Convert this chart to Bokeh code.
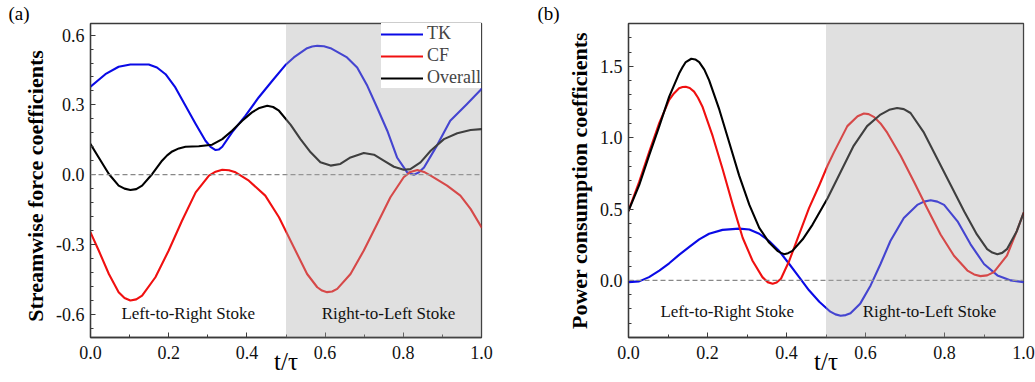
from bokeh.plotting import figure
from bokeh.layouts import row
from bokeh.models import (Range1d, SingleIntervalTicker, PrintfTickFormatter, BoxAnnotation,
                          Span, Label, Legend, LegendItem)
from bokeh.embed import file_html
from bokeh.resources import INLINE

# ---------------- data: panel (a) streamwise force coefficients ----------------
a_tk_t = [0, 0.038, 0.072, 0.102, 0.149, 0.17, 0.192, 0.217, 0.243, 0.269, 0.294, 0.307, 0.32, 0.328, 0.337,
          0.362, 0.396, 0.43, 0.465, 0.5, 0.52, 0.554, 0.567, 0.58, 0.597, 0.614, 0.656, 0.682, 0.708, 0.733,
          0.759, 0.784, 0.81, 0.827, 0.84, 0.853, 0.886, 0.92, 0.963, 1.0]
a_tk_v = [0.378, 0.432, 0.464, 0.474, 0.474, 0.461, 0.432, 0.375, 0.296, 0.218, 0.146, 0.120, 0.106, 0.108,
          0.12, 0.182, 0.253, 0.332, 0.404, 0.474, 0.504, 0.544, 0.551, 0.554, 0.552, 0.544, 0.504, 0.461,
          0.382, 0.289, 0.189, 0.074, 0.010, 0.0, 0.01, 0.031, 0.125, 0.232, 0.304, 0.368]

a_cf_t = [0, 0.021, 0.047, 0.072, 0.087, 0.102, 0.117, 0.132, 0.166, 0.2, 0.234, 0.269, 0.303, 0.32, 0.337,
          0.354, 0.371, 0.405, 0.447, 0.482, 0.52, 0.554, 0.58, 0.592, 0.605, 0.618, 0.631, 0.665, 0.699,
          0.733, 0.767, 0.801, 0.818, 0.836, 0.853, 0.87, 0.912, 0.946, 0.972, 1.0]
a_cf_v = [-0.248, -0.326, -0.427, -0.505, -0.530, -0.541, -0.536, -0.520, -0.441, -0.326, -0.198, -0.076,
          -0.004, 0.013, 0.021, 0.019, 0.010, -0.026, -0.090, -0.183, -0.312, -0.427, -0.484, -0.498, -0.505,
          -0.502, -0.491, -0.427, -0.326, -0.212, -0.097, -0.011, 0.012, 0.020, 0.012, -0.004, -0.047,
          -0.090, -0.147, -0.226]

a_ov_t = [0, 0.021, 0.047, 0.072, 0.087, 0.102, 0.117, 0.132, 0.158, 0.183, 0.196, 0.209, 0.226, 0.243,
          0.277, 0.311, 0.337, 0.362, 0.388, 0.413, 0.432, 0.452, 0.467, 0.482, 0.512, 0.537, 0.563, 0.588,
          0.614, 0.639, 0.665, 0.699, 0.725, 0.75, 0.776, 0.801, 0.818, 0.844, 0.87, 0.904, 0.938, 0.972, 1.0]
a_ov_v = [0.132, 0.074, 0.003, -0.047, -0.060, -0.066, -0.062, -0.047, 0.003, 0.060, 0.083, 0.100, 0.113,
          0.120, 0.122, 0.129, 0.153, 0.189, 0.232, 0.268, 0.287, 0.296, 0.291, 0.275, 0.214, 0.153, 0.096,
          0.053, 0.039, 0.046, 0.074, 0.093, 0.086, 0.060, 0.034, 0.021, 0.024, 0.053, 0.103, 0.153, 0.178,
          0.192, 0.196]

# ---------------- data: panel (b) power consumption coefficients ----------------
b_tk_t = [0, 0.027, 0.052, 0.078, 0.103, 0.128, 0.154, 0.179, 0.204, 0.238, 0.28, 0.306, 0.331, 0.356,
          0.381, 0.407, 0.432, 0.457, 0.483, 0.511, 0.524, 0.537, 0.55, 0.562, 0.587, 0.613, 0.638, 0.663,
          0.697, 0.731, 0.748, 0.765, 0.782, 0.799, 0.833, 0.866, 0.9, 0.934, 0.968, 1.0]
b_tk_v = [-0.012, -0.007, 0.023, 0.069, 0.120, 0.179, 0.235, 0.288, 0.327, 0.354, 0.363, 0.357, 0.327,
          0.276, 0.207, 0.115, 0.023, -0.069, -0.150, -0.219, -0.238, -0.248, -0.243, -0.230, -0.161, -0.035,
          0.115, 0.276, 0.437, 0.529, 0.552, 0.561, 0.552, 0.529, 0.414, 0.253, 0.115, 0.035, 0.0, -0.012]

b_cf_t = [0, 0.027, 0.052, 0.078, 0.103, 0.115, 0.128, 0.137, 0.145, 0.155, 0.166, 0.176, 0.187, 0.213,
          0.238, 0.264, 0.289, 0.314, 0.339, 0.352, 0.365, 0.375, 0.386, 0.407, 0.432, 0.457, 0.483, 0.504,
          0.52, 0.554, 0.58, 0.596, 0.608, 0.621, 0.638, 0.655, 0.689, 0.723, 0.756, 0.79, 0.824, 0.858,
          0.875, 0.891, 0.908, 0.925, 0.958, 0.983, 1.0]
b_cf_v = [0.488, 0.690, 0.897, 1.104, 1.265, 1.310, 1.346, 1.355, 1.357, 1.348, 1.323, 1.280, 1.219, 1.012,
          0.782, 0.529, 0.299, 0.138, 0.023, -0.012, -0.023, -0.015, 0.012, 0.138, 0.322, 0.506, 0.667, 0.805,
          0.897, 1.081, 1.150, 1.169, 1.165, 1.146, 1.100, 1.035, 0.874, 0.690, 0.506, 0.322, 0.173, 0.069,
          0.042, 0.030, 0.035, 0.058, 0.173, 0.345, 0.472]

b_ov_t = [0, 0.027, 0.052, 0.078, 0.103, 0.128, 0.137, 0.145, 0.159, 0.169, 0.179, 0.192, 0.204, 0.23,
          0.255, 0.28, 0.306, 0.331, 0.356, 0.377, 0.386, 0.394, 0.404, 0.415, 0.441, 0.466, 0.504, 0.537,
          0.57, 0.604, 0.638, 0.66, 0.68, 0.697, 0.714, 0.748, 0.782, 0.816, 0.85, 0.882, 0.908, 0.921,
          0.934, 0.946, 0.958, 0.983, 1.0]
b_ov_v = [0.488, 0.667, 0.874, 1.081, 1.288, 1.449, 1.495, 1.530, 1.553, 1.548, 1.530, 1.477, 1.403, 1.196,
          0.966, 0.736, 0.529, 0.368, 0.265, 0.207, 0.193, 0.184, 0.191, 0.207, 0.288, 0.391, 0.575, 0.759,
          0.943, 1.081, 1.162, 1.195, 1.208, 1.200, 1.173, 1.035, 0.851, 0.667, 0.483, 0.322, 0.219, 0.195,
          0.184, 0.193, 0.219, 0.345, 0.472]

series_names = ["TK", "CF", "Overall"]
stroke_labels = ["Left-to-Right Stoke", "Right-to-Left Stoke"]

SERIF = "Liberation Serif"
BLUE, RED, BLACK = "#0a0ae6", "#f01010", "#000000"
FRAME = "#3a3a3a"


def make_panel(width, borders, yrange, yint, ylabel, panel_tag, tag_offset, series, text_y,
               legend=False):
    left, right, top, bottom = borders
    p = figure(width=width, height=382, output_backend="svg", toolbar_location=None,
               x_range=Range1d(0, 1), y_range=Range1d(*yrange),
               min_border_left=left, min_border_right=right, min_border_top=top,
               min_border_bottom=bottom)
    p.grid.visible = False
    p.outline_line_color = FRAME
    p.outline_line_width = 1.3
    p.background_fill_color = "white"
    p.border_fill_color = "white"

    p.title.text = panel_tag
    p.title.align = "left"
    p.title.offset = tag_offset
    p.title.standoff = 0
    p.title.text_font = SERIF
    p.title.text_font_style = "normal"
    p.title.text_font_size = "19px"
    p.title.text_color = "#000000"

    p.xaxis.ticker = SingleIntervalTicker(interval=0.2, num_minor_ticks=2)
    p.yaxis.ticker = SingleIntervalTicker(interval=yint, num_minor_ticks=5)
    for ax in (p.xaxis[0], p.yaxis[0]):
        ax.formatter = PrintfTickFormatter(format="%.1f")
        ax.axis_line_color = FRAME
        ax.axis_line_width = 1.3
        ax.major_tick_line_color = FRAME
        ax.minor_tick_line_color = FRAME
        ax.major_tick_in = 5
        ax.major_tick_out = 0
        ax.minor_tick_in = 3
        ax.minor_tick_out = 0
        ax.major_label_text_font = SERIF
        ax.major_label_text_font_size = "18px"
        ax.major_label_text_color = "#111111"
    p.xaxis.major_label_standoff = 8
    p.xaxis.axis_label = "t/\u03c4"
    p.xaxis.axis_label_text_font = SERIF
    p.xaxis.axis_label_text_font_style = "normal"
    p.xaxis.axis_label_text_font_size = "25px"
    p.xaxis.axis_label_text_color = "#000000"
    p.xaxis.axis_label_standoff = -14

    p.yaxis.major_label_standoff = 6
    p.yaxis.axis_label = ylabel
    p.yaxis.axis_label_text_font = SERIF
    p.yaxis.axis_label_text_font_style = "bold"
    p.yaxis.axis_label_text_font_size = "22px"
    p.yaxis.axis_label_text_color = "#000000"
    p.yaxis.axis_label_standoff = 5

    zero = Span(location=0, dimension="width", line_color="#888888", line_width=1.2, line_dash="5 3")
    p.add_layout(zero)

    renderers = []
    for (tt, vv), col in zip(series, [BLUE, RED, BLACK]):
        r = p.line(tt, vv, line_color=col, line_width=2.1, line_join="round", line_cap="round")
        renderers.append(r)

    shade = BoxAnnotation(left=0.5, right=1.0, fill_color="#ababab", fill_alpha=0.37, line_color=None,
                          line_alpha=0)
    p.add_layout(shade)

    for txt, tx in zip(stroke_labels, [0.25, 0.762]):
        p.add_layout(Label(x=tx, y=text_y, text=txt, text_font=SERIF, text_font_size="17px",
                           text_align="center", text_baseline="middle", text_color="#111111"))

    if legend:
        lg = Legend(items=[LegendItem(label=n, renderers=[r]) for n, r in zip(series_names, renderers)],
                    location="top_right", margin=0, padding=7, spacing=1, glyph_width=42,
                    glyph_height=20, label_standoff=4, border_line_color=None,
                    background_fill_color="white", background_fill_alpha=1.0,
                    label_text_font=SERIF, label_text_font_size="18px", label_height=20)
        p.add_layout(lg)
    return p


pa = make_panel(515, (90, 34, 23, 45), (-0.70, 0.65), 0.3, "Streamwise  force  coefficients", "(a)", -82,
                [(a_tk_t, a_tk_v), (a_cf_t, a_cf_v), (a_ov_t, a_ov_v)], -0.597, legend=True)
pb = make_panel(520, (113, 12, 23, 41), (-0.4, 1.8), 0.5, "Power consumption coefficients", "(b)", -91,
                [(b_tk_t, b_tk_v), (b_cf_t, b_cf_v), (b_ov_t, b_ov_v)], -0.219)

layout = row(pa, pb)
open("out.html", "w").write(file_html(layout, INLINE))
